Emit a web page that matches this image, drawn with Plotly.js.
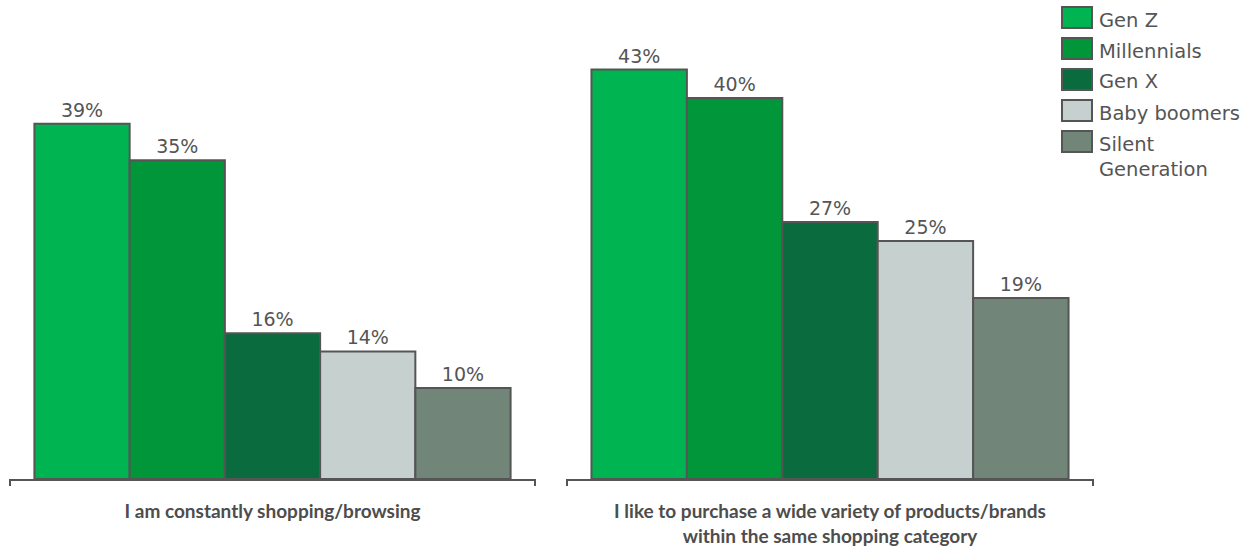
<!DOCTYPE html>
<html>
<head>
<meta charset="utf-8">
<script src="https://cdn.plot.ly/plotly-3.0.1.min.js"></script>
<style>html,body{margin:0;padding:0;background:#fff;}</style>
</head>
<body>
<div id="chart" style="width:1255px;height:547px;"></div>
<script>
// ---- data ----
const statements = [
  "I am constantly shopping/browsing",
  "I like to purchase a wide variety of products/brands<br>within the same shopping category"
];
const generations = ["Gen Z", "Millennials", "Gen X", "Baby boomers", "Silent<br>Generation"];
const constantlyShopping = [39, 35, 16, 14, 10];
const wideVariety = [43, 40, 27, 25, 19];

// ---- style ----
const colors = ["#00b451", "#009639", "#0a6b3e", "#c6d0ce", "#718579"];
const edge = "#555555";
const W = 1255, H = 547;
const px = v => v / W;
const py = v => 1 - v / H;

const traces = [];
const series = [constantlyShopping, wideVariety];
series.forEach((vals, s) => {
  generations.forEach((g, i) => {
    traces.push({
      type: "bar",
      x: [statements[s]],
      y: [vals[i]],
      name: g,
      xaxis: s === 0 ? "x" : "x2",
      yaxis: s === 0 ? "y" : "y2",
      marker: {color: colors[i], line: {color: edge, width: 2}},
      text: [vals[i] + "%"],
      textposition: "outside",
      cliponaxis: false,
      textfont: {family: "DejaVu Sans, sans-serif", size: 19, color: "#555555"},
      showlegend: false,
      hoverinfo: "skip"
    });
  });
});

const axisX = {
  type: "category",
  showline: true, linecolor: edge, linewidth: 2,
  ticks: "outside", ticklen: 14, tickcolor: "rgba(0,0,0,0)",
  tickfont: {family: "Lato, sans-serif", size: 19, color: "#4d4d4d", weight: 700},
  showgrid: false, zeroline: false, fixedrange: true
};
const axisY = {visible: false, showgrid: false, zeroline: false, fixedrange: true};

const shapes = [];
const annotations = [];
// bracket end ticks
["x", "x2"].forEach((ax, k) => {
  const yr = k === 0 ? "y domain" : "y2 domain";
  [0, 1].forEach(xx => {
    shapes.push({type: "line", xref: ax + " domain", yref: yr, x0: xx, x1: xx,
      ysizemode: "pixel", yanchor: 0, y0: 0, y1: -7,
      line: {color: edge, width: 2}});
  });
});
// custom legend
generations.forEach((g, i) => {
  const top = 7 + i * 31;
  shapes.push({type: "rect", xref: "paper", yref: "paper",
    x0: px(1062), x1: px(1092), y0: py(top), y1: py(top + 21),
    fillcolor: colors[i], line: {color: edge, width: 2}});
  annotations.push({xref: "paper", yref: "paper", x: px(1097), y: py(top + 10.5 - 11),
    xanchor: "left", yanchor: "top", text: g, showarrow: false, align: "left",
    font: {family: "DejaVu Sans, sans-serif", size: 19.5, color: "#555555"}});
});

const layout = {
  width: W, height: H,
  margin: {l: 0, r: 0, t: 0, b: 0},
  paper_bgcolor: "#fff", plot_bgcolor: "#fff",
  barmode: "group", bargap: 0.093, bargroupgap: 0,
  showlegend: false,
  xaxis: Object.assign({}, axisX, {domain: [px(10), px(535)], anchor: "y"}),
  xaxis2: Object.assign({}, axisX, {domain: [px(567), px(1093)], anchor: "y2"}),
  yaxis: Object.assign({}, axisY, {domain: [68 / H, 1 - 40 / H], range: [0, 48.2], anchor: "x"}),
  yaxis2: Object.assign({}, axisY, {domain: [68 / H, 1 - 40 / H], range: [0, 46.1], anchor: "x2"}),
  shapes: shapes,
  annotations: annotations
};

Plotly.newPlot("chart", traces, layout, {displayModeBar: false, staticPlot: true});
</script>
</body>
</html>
